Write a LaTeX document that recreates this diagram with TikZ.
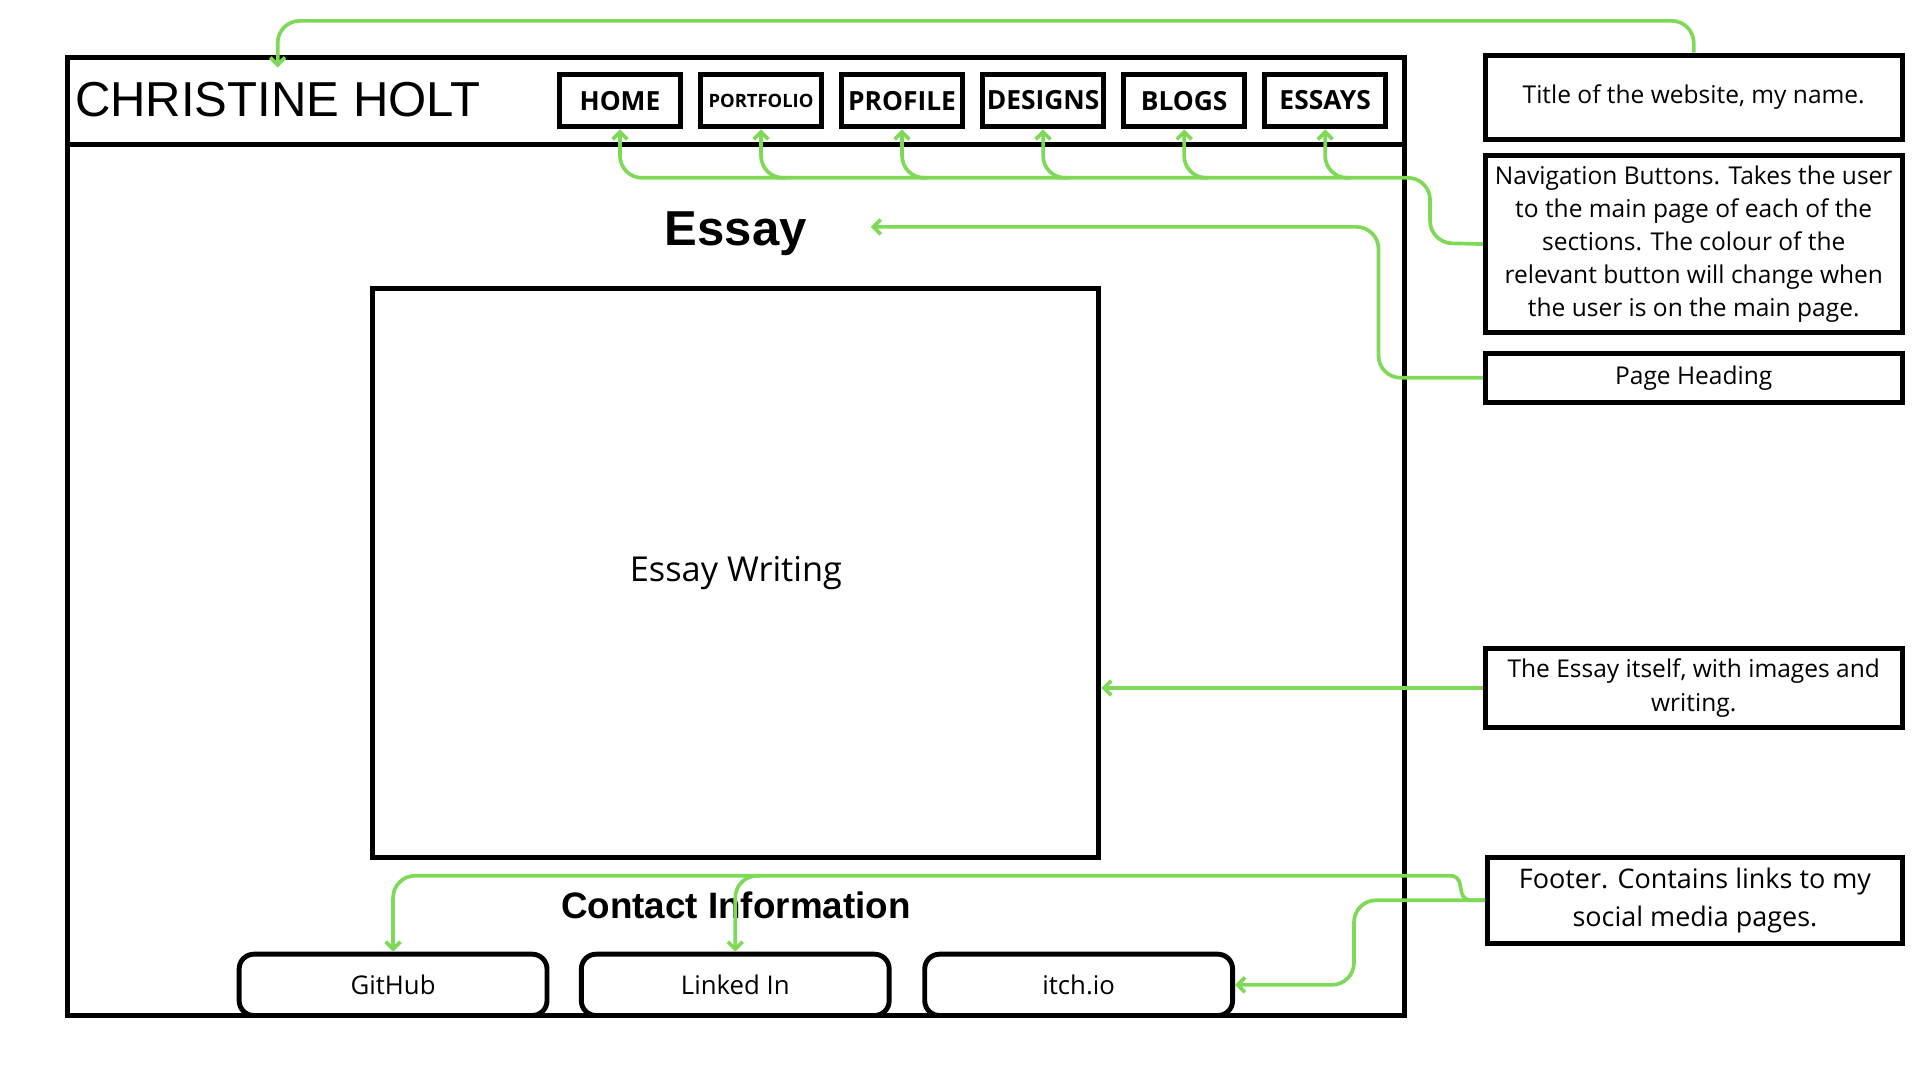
\documentclass[tikz,border=0pt]{standalone}
\usepackage{fontspec}
\setmainfont{Open Sans}
\newfontfamily\arialfont{Liberation Sans}
\usetikzlibrary{arrows.meta,positioning,calc}
\definecolor{notegreen}{HTML}{7ED957}

\begin{document}
\begin{tikzpicture}[x=1pt,y=-1pt,
  box/.style={draw,line width=4pt,inner sep=0pt},
  navbtn/.style={box,minimum width=99pt,minimum height=43pt,font=\bfseries\fontsize{21.5}{21.5}\selectfont},
  linkbtn/.style={box,rounded corners=12pt,minimum width=251pt,minimum height=50pt,font=\fontsize{21}{21}\selectfont},
  note/.style={box,minimum width=340pt,align=center,font=\fontsize{20}{27}\selectfont},
  link/.style={draw=notegreen,line width=3pt,rounded corners=18pt,-{Straight Barb[length=6pt,width=12pt]}}]
\useasboundingbox (0,0) rectangle (1565.5,880.6);
% the page
\node[box,minimum width=1090pt,minimum height=781pt] (page) at (600,437.5) {};
\draw[line width=4pt] (55,118)--(1145,118);
\node[anchor=base west,inner sep=0pt,font=\arialfont\fontsize{40}{40}\selectfont] (sitetitle) at (61,95) {CHRISTINE HOLT};
\node[navbtn] (home) at (505.5,82) {HOME};
\node[navbtn,font=\bfseries\fontsize{15}{15}\selectfont] (portfolio) at (620.5,82) {PORTFOLIO};
\node[navbtn] (profile) at (735.5,82) {PROFILE};
\node[navbtn] (designs) at (850.5,82) {DESIGNS};
\node[navbtn] (blogs) at (965.5,82) {BLOGS};
\node[navbtn] (essays) at (1080.5,82) {ESSAYS};
\node[anchor=base,font=\arialfont\bfseries\fontsize{40}{40}\selectfont] (heading) at (600,200) {Essay};
\node[box,minimum width=592pt,minimum height=464pt,font=\fontsize{28}{28}\selectfont] (essaybox) at (600,467) {Essay Writing};
\node[anchor=base,font=\arialfont\bfseries\fontsize{30}{30}\selectfont] (contact) at (600,749) {Contact Information};
\node[linkbtn] (github) at (320.5,803) {GitHub};
\node[linkbtn] (linkedin) at (599.5,803) {Linked In};
\node[linkbtn] (itchio) at (879.5,803) {itch.io};
% the notes
\node[note,minimum height=69pt] (titlenote) at (1381,79.5) {Title of the website, my name.};
\node[note,minimum height=144pt] (navnote) at (1381,199) {Navigation Buttons. Takes the user\\ to the main page of each of the\\ sections. The colour of the\\ relevant button will change when\\ the user is on the main page.};
\node[note,minimum height=40pt] (headnote) at (1381,308) {Page Heading};
\node[note,minimum height=64pt] (essaynote) at (1381,561) {The Essay itself, with images and\\ writing.};
\node[note,minimum width=338pt,minimum height=70pt,font=\fontsize{22}{31}\selectfont] (footnote) at (1382,734) {Footer. Contains links to my\\ social media pages.};
% green connectors
\coordinate (titletip) at (sitetitle.north |- 0,55);
\coordinate (headtip) at (710,185);
\draw[link] (titlenote.north) -- ++(0,-26) -| (titletip);
\draw[link] (navnote.west) -- (1166,198) -- (1166,145) -- (home.south |- 0,145) -- (home.south);
\draw[link] ($(portfolio.south |- 0,145)+(20,0)$) -- (portfolio.south |- 0,145) -- (portfolio.south);
\draw[link] ($(profile.south |- 0,145)+(20,0)$) -- (profile.south |- 0,145) -- (profile.south);
\draw[link] ($(designs.south |- 0,145)+(20,0)$) -- (designs.south |- 0,145) -- (designs.south);
\draw[link] ($(blogs.south |- 0,145)+(20,0)$) -- (blogs.south |- 0,145) -- (blogs.south);
\draw[link] ($(essays.south |- 0,145)+(20,0)$) -- (essays.south |- 0,145) -- (essays.south);
\draw[link] (headnote.west) -- (1124,308) |- (headtip);
\draw[link] (essaynote.west) -- (essaynote.west -| essaybox.east);
\draw[link] (footnote.west) -- (1104,734) |- (itchio.east);
\draw[link] (footnote.west) [rounded corners=6pt] -- (1193,734) -- (1189,714) [rounded corners=18pt] -- (github.north |- 0,714) -- (github.north);
\draw[link] ($(linkedin.north |- 0,714)+(20,0)$) -- (linkedin.north |- 0,714) -- (linkedin.north);
\end{tikzpicture}
\end{document}
